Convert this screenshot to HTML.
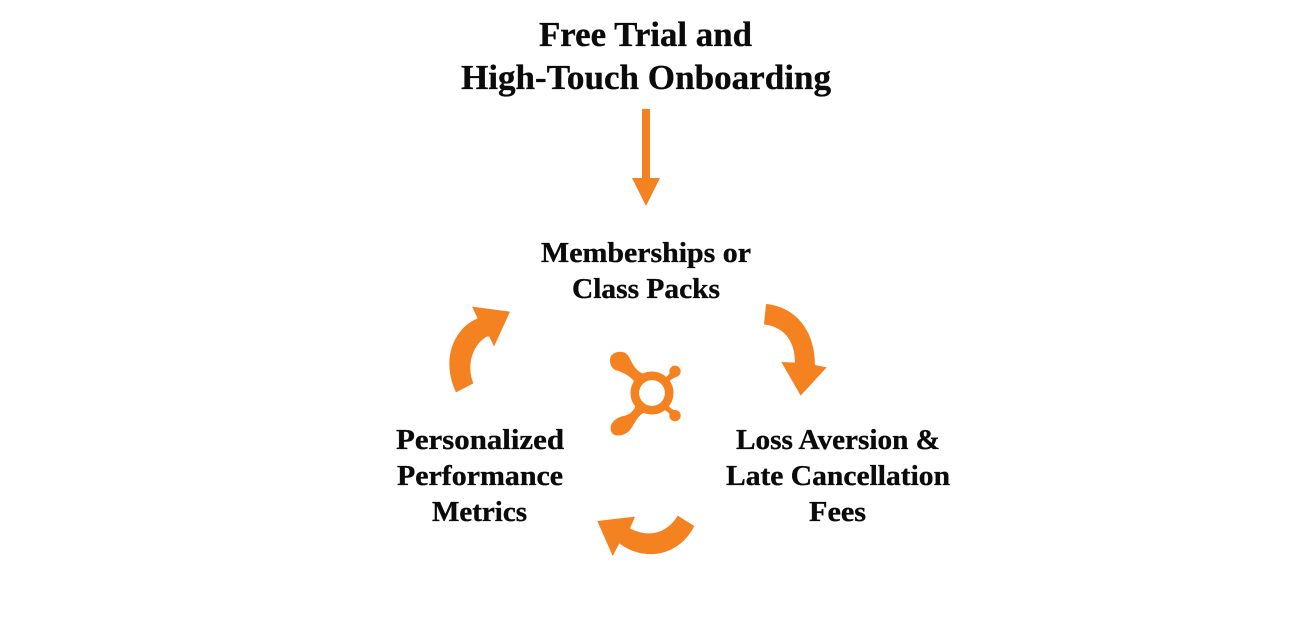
<!DOCTYPE html>
<html><head><meta charset="utf-8"><style>
html,body{margin:0;padding:0;background:#fff}
svg{display:block}
text{font-family:"Liberation Serif",serif;font-weight:bold;fill:#0b0b0b;stroke:#0b0b0b;stroke-width:.35px}
.t{font-size:35px}
.l{font-size:28px}
</style></head><body>
<svg width="1292" height="636" viewBox="0 0 1292 636" xmlns="http://www.w3.org/2000/svg">
<rect width="1292" height="636" fill="#fff"/>
<text class="t" x="539" y="46" textLength="213" lengthAdjust="spacingAndGlyphs">Free Trial and</text>
<text class="t" x="461" y="89" textLength="370" lengthAdjust="spacingAndGlyphs">High-Touch Onboarding</text>
<text class="l" x="541" y="262" textLength="210" lengthAdjust="spacingAndGlyphs">Memberships or</text>
<text class="l" x="572" y="298" textLength="148" lengthAdjust="spacingAndGlyphs">Class Packs</text>
<text class="l" x="736" y="449" textLength="204" lengthAdjust="spacingAndGlyphs">Loss Aversion &amp;</text>
<text class="l" x="726" y="485" textLength="224" lengthAdjust="spacingAndGlyphs">Late Cancellation</text>
<text class="l" x="809" y="521" textLength="57" lengthAdjust="spacingAndGlyphs">Fees</text>
<text class="l" x="396" y="449" textLength="168" lengthAdjust="spacingAndGlyphs">Personalized</text>
<text class="l" x="397" y="485" textLength="166" lengthAdjust="spacingAndGlyphs">Performance</text>
<text class="l" x="432" y="521" textLength="95" lengthAdjust="spacingAndGlyphs">Metrics</text>
<g fill="#f58220">
<path d="M642 109H650V178H660L646 206L632 178H642Z"/>
<path transform="translate(740 290) scale(.33333)" d="M78,42 L72,103 C130,110 165,150 165,218 L124,216 L182,317 L260,232 L225,225 C225,120 165,50 78,42Z"/>
<path transform="translate(430 290) scale(.33333)" d="M78,307 L130,280 C108,225 128,165 170,140 L178,140 L192,170 L240,65 L126,50 L143,85 C75,112 30,205 78,307Z"/>
<path transform="translate(580 500) scale(.33333)" d="M343,78 L293,47 C262,100 205,115 150,85 L165,50 L52,63 L98,168 L118,130 C190,185 295,172 343,78Z"/>
<g transform="translate(580 330) scale(.33333)">
<path d="M90,92 C88,72 110,62 128,66 C148,70 150,92 162,108 C168,118 178,126 190,132 L165,158 C155,142 135,128 105,120 C95,113 90,105 90,92Z"/>
<path d="M92,297 C90,278 110,262 130,258 C148,255 160,245 168,225 L192,248 C172,258 165,280 150,300 C138,315 118,318 108,316 C98,314 92,306 92,297Z"/>
<circle cx="285" cy="124" r="17"/>
<circle cx="285" cy="257" r="17"/>
<path d="M250,145 L262,160 C270,150 280,145 290,140 L272,118 C272,130 262,140 250,145Z"/>
<path d="M250,238 L262,222 C270,235 280,240 290,243 L272,265 C272,250 262,245 250,238Z"/>
</g>
</g>
<circle cx="652" cy="393" r="17.2" fill="#fff" stroke="#f58220" stroke-width="8.6"/>
</svg>
</body></html>
